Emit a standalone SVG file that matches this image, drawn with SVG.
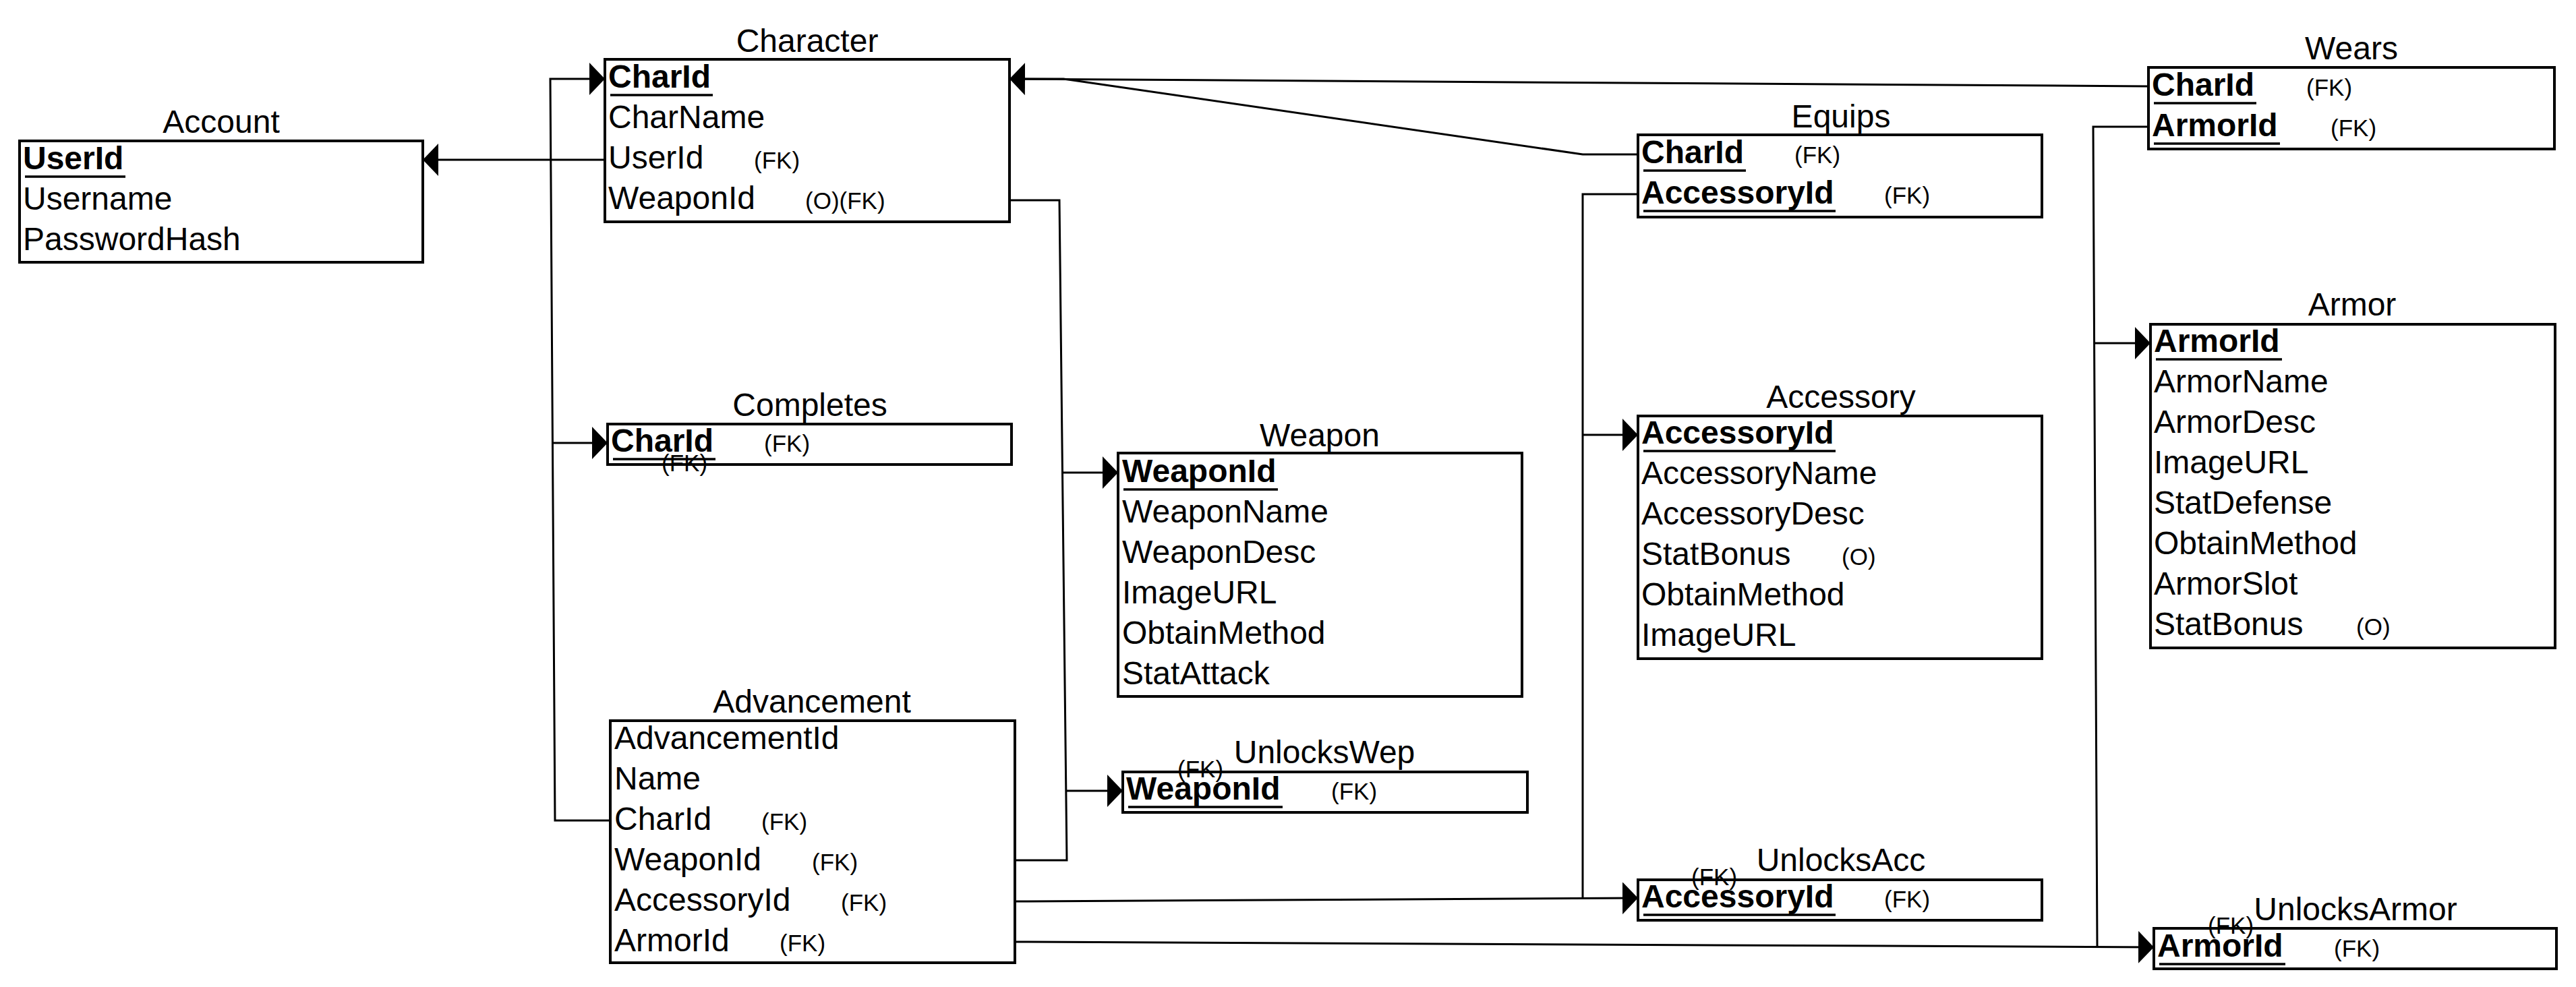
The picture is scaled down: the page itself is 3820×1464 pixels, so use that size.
<svg xmlns="http://www.w3.org/2000/svg" width="3820" height="1464" viewBox="0 0 3820 1464">
<style>
text{font-family:"Liberation Sans",Arial,Helvetica,sans-serif;font-size:48px;fill:#000}
.ti{text-anchor:middle}
.b{font-weight:bold}
.s{font-size:35px}
.box{fill:#fff;stroke:#000;stroke-width:4}
.ul{stroke:#000;stroke-width:3.5}
.c{fill:none;stroke:#000;stroke-width:3}
.a{marker-end:url(#ah)}
</style>
<defs>
<marker id="ah" markerUnits="userSpaceOnUse" markerWidth="24" markerHeight="48" refX="23" refY="24" orient="auto" viewBox="0 0 24 48">
<path d="M0,0 L23,24 L0,48 Z" fill="#000"/>
</marker>
</defs>
<rect width="3820" height="1464" fill="#fff"/>

<g id="Account">
<rect class="box" x="29" y="209" width="598" height="180"/>
<text class="ti" x="328" y="197">Account</text>
<text class="b" x="34" y="251">UserId</text>
<line class="ul" x1="37" y1="262" x2="186" y2="262"/>
<text x="34" y="311">Username</text>
<text x="34" y="371">PasswordHash</text>
</g>

<g id="Character">
<rect class="box" x="897" y="88" width="600" height="241"/>
<text class="ti" x="1197" y="77">Character</text>
<text class="b" x="902" y="130">CharId</text>
<line class="ul" x1="905" y1="141" x2="1057" y2="141"/>
<text x="902" y="190">CharName</text>
<text x="902" y="250">UserId</text>
<text class="s" x="1118" y="250">(FK)</text>
<text x="902" y="310">WeaponId</text>
<text class="s" x="1194" y="310">(O)(FK)</text>
</g>

<g id="Completes">
<rect class="box" x="901" y="629" width="599" height="60"/>
<text class="ti" x="1201" y="617">Completes</text>
<text class="b" x="906" y="670">CharId</text>
<line class="ul" x1="909" y1="681" x2="1061" y2="681"/>
<text class="s" x="1133" y="670">(FK)</text>
<text class="s" x="981" y="699">(FK)</text>
</g>

<g id="Weapon">
<rect class="box" x="1658" y="672" width="599" height="361"/>
<text class="ti" x="1957" y="662">Weapon</text>
<text class="b" x="1664" y="715">WeaponId</text>
<line class="ul" x1="1666" y1="726" x2="1895" y2="726"/>
<text x="1664" y="775">WeaponName</text>
<text x="1664" y="835">WeaponDesc</text>
<text x="1664" y="895">ImageURL</text>
<text x="1664" y="955">ObtainMethod</text>
<text x="1664" y="1015">StatAttack</text>
</g>

<g id="UnlocksWep">
<rect class="box" x="1665" y="1145" width="600" height="60"/>
<text class="ti" x="1964" y="1132">UnlocksWep</text>
<text class="b" x="1670" y="1186">WeaponId</text>
<line class="ul" x1="1673" y1="1197" x2="1902" y2="1197"/>
<text class="s" x="1974" y="1186">(FK)</text>
<text class="s" x="1746" y="1153">(FK)</text>
</g>

<g id="Advancement">
<rect class="box" x="905" y="1069" width="600" height="359"/>
<text class="ti" x="1204" y="1057">Advancement</text>
<text x="911" y="1111">AdvancementId</text>
<text x="911" y="1171">Name</text>
<text x="911" y="1231">CharId</text>
<text class="s" x="1129" y="1231">(FK)</text>
<text x="911" y="1291">WeaponId</text>
<text class="s" x="1204" y="1291">(FK)</text>
<text x="911" y="1351">AccessoryId</text>
<text class="s" x="1247" y="1351">(FK)</text>
<text x="911" y="1411">ArmorId</text>
<text class="s" x="1156" y="1411">(FK)</text>
</g>

<g id="Equips">
<rect class="box" x="2429" y="200" width="599" height="122"/>
<text class="ti" x="2730" y="189">Equips</text>
<text class="b" x="2434" y="242">CharId</text>
<line class="ul" x1="2437" y1="253" x2="2589" y2="253"/>
<text class="s" x="2661" y="242">(FK)</text>
<text class="b" x="2434" y="302">AccessoryId</text>
<line class="ul" x1="2437" y1="313" x2="2722" y2="313"/>
<text class="s" x="2794" y="302">(FK)</text>
</g>

<g id="Accessory">
<rect class="box" x="2429" y="617" width="599" height="360"/>
<text class="ti" x="2730" y="605">Accessory</text>
<text class="b" x="2434" y="658">AccessoryId</text>
<line class="ul" x1="2437" y1="669" x2="2722" y2="669"/>
<text x="2434" y="718">AccessoryName</text>
<text x="2434" y="778">AccessoryDesc</text>
<text x="2434" y="838">StatBonus</text>
<text class="s" x="2731" y="838">(O)</text>
<text x="2434" y="898">ObtainMethod</text>
<text x="2434" y="958">ImageURL</text>
</g>

<g id="UnlocksAcc">
<rect class="box" x="2429" y="1305" width="599" height="60"/>
<text class="ti" x="2730" y="1292">UnlocksAcc</text>
<text class="b" x="2434" y="1346">AccessoryId</text>
<line class="ul" x1="2437" y1="1357" x2="2722" y2="1357"/>
<text class="s" x="2794" y="1346">(FK)</text>
<text class="s" x="2508" y="1313">(FK)</text>
</g>

<g id="Wears">
<rect class="box" x="3186" y="100" width="602" height="121"/>
<text class="ti" x="3487" y="88">Wears</text>
<text class="b" x="3191" y="142">CharId</text>
<line class="ul" x1="3194" y1="153" x2="3346" y2="153"/>
<text class="s" x="3420" y="142">(FK)</text>
<text class="b" x="3191" y="202">ArmorId</text>
<line class="ul" x1="3194" y1="213" x2="3381" y2="213"/>
<text class="s" x="3456" y="202">(FK)</text>
</g>

<g id="Armor">
<rect class="box" x="3189" y="481" width="600" height="480"/>
<text class="ti" x="3488" y="468">Armor</text>
<text class="b" x="3194" y="522">ArmorId</text>
<line class="ul" x1="3197" y1="533" x2="3384" y2="533"/>
<text x="3194" y="582">ArmorName</text>
<text x="3194" y="642">ArmorDesc</text>
<text x="3194" y="702">ImageURL</text>
<text x="3194" y="762">StatDefense</text>
<text x="3194" y="822">ObtainMethod</text>
<text x="3194" y="882">ArmorSlot</text>
<text x="3194" y="942">StatBonus</text>
<text class="s" x="3494" y="942">(O)</text>
</g>

<g id="UnlocksArmor">
<rect class="box" x="3194" y="1377" width="597" height="60"/>
<text class="ti" x="3493" y="1365">UnlocksArmor</text>
<text class="b" x="3199" y="1419">ArmorId</text>
<line class="ul" x1="3202" y1="1430" x2="3389" y2="1430"/>
<text class="s" x="3461" y="1419">(FK)</text>
<text class="s" x="3274" y="1385">(FK)</text>
</g>

<g id="connectors">
<path class="c a" d="M897,237 H627"/>
<path class="c a" d="M905,1217 H823 L816,117 H897"/>
<path class="c a" d="M819.4,657 H901"/>
<path class="c a" d="M3186,128 L1497,117"/>
<path class="c" d="M2429,229 H2347 L1577,117 L1520,117"/>
<path class="c a" d="M1497,297 H1571 L1575.5,701 H1658"/>
<path class="c" d="M1505,1276 H1582 L1575.5,701"/>
<path class="c a" d="M1580.8,1173 H1665"/>
<path class="c" d="M2429,288 H2347 V1332"/>
<path class="c a" d="M2347,645 H2429"/>
<path class="c a" d="M1505,1337 L2429,1332"/>
<path class="c" d="M3186,188 H3104 L3110,1405"/>
<path class="c a" d="M3105.6,509 H3189"/>
<path class="c a" d="M1505,1397 L3194,1405"/>
</g>
</svg>
